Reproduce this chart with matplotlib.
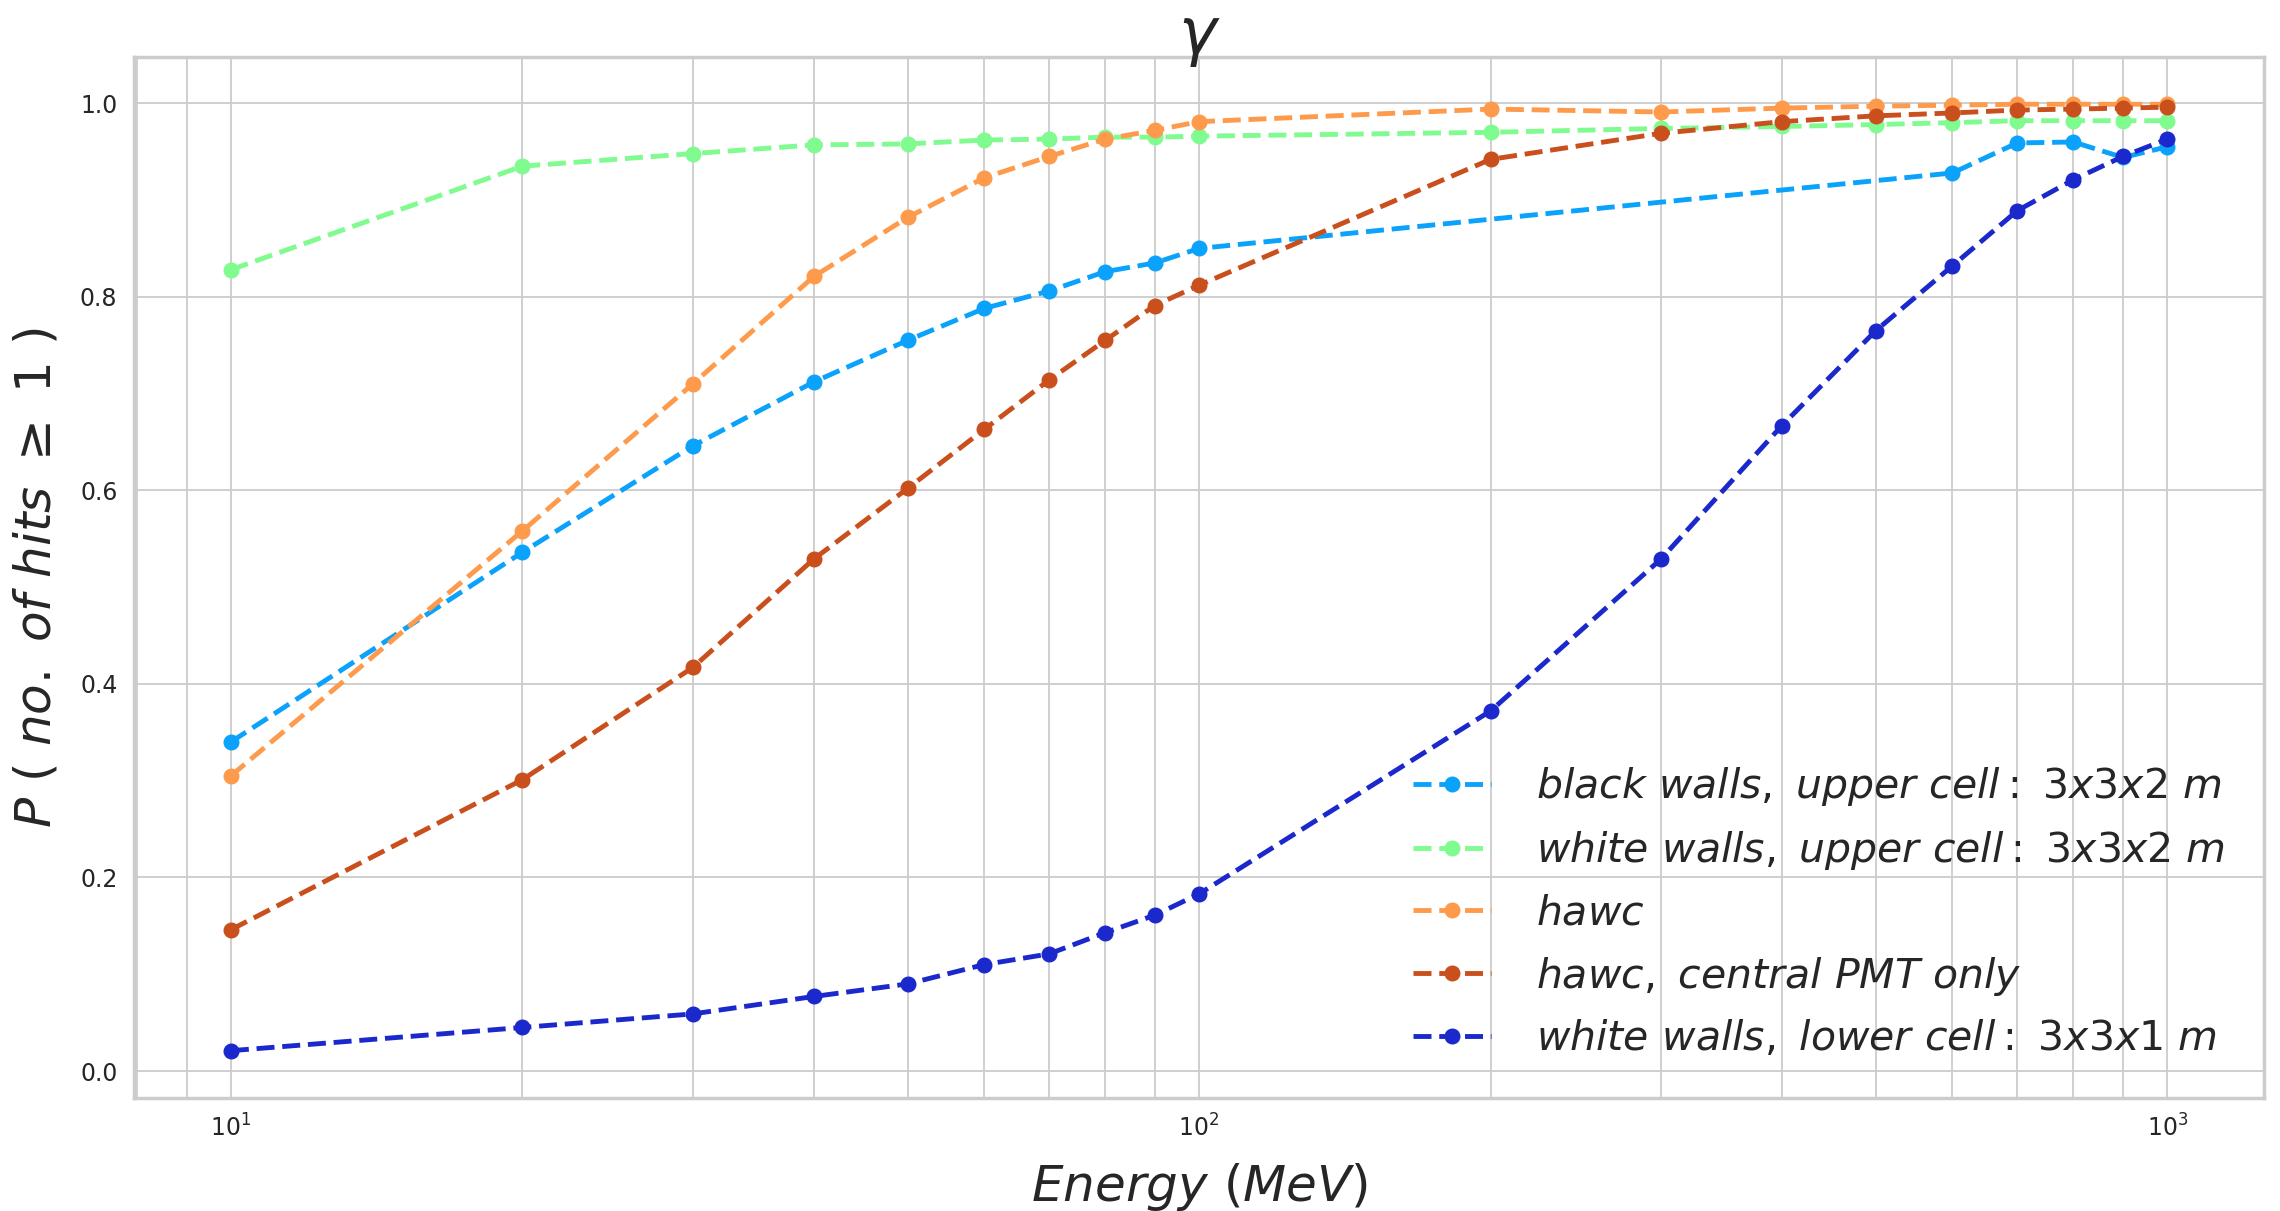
import matplotlib
matplotlib.use("Agg")
import matplotlib.pyplot as plt
import seaborn as sns

# =========================
# DATA
# =========================
energy_all = [10, 20, 30, 40, 50, 60, 70, 80, 90, 100,
              200, 300, 400, 500, 600, 700, 800, 900, 1000]
energy_black = [10, 20, 30, 40, 50, 60, 70, 80, 90, 100,
                600, 700, 800, 900, 1000]

p_black_upper = [0.340, 0.536, 0.646, 0.712, 0.755, 0.788, 0.806, 0.826, 0.835, 0.850,
                 0.928, 0.959, 0.960, 0.944, 0.955]
p_white_upper = [0.828, 0.935, 0.948, 0.957, 0.958, 0.962, 0.963, 0.965, 0.965, 0.966,
                 0.970, 0.974, 0.976, 0.978, 0.980, 0.982, 0.982, 0.982, 0.982]
p_hawc = [0.305, 0.558, 0.710, 0.821, 0.882, 0.923, 0.945, 0.963, 0.972, 0.981,
          0.994, 0.991, 0.995, 0.997, 0.998, 0.999, 0.999, 0.999, 0.999]
p_hawc_central = [0.146, 0.301, 0.417, 0.529, 0.602, 0.663, 0.714, 0.755, 0.791, 0.812,
                  0.942, 0.969, 0.981, 0.987, 0.990, 0.993, 0.994, 0.995, 0.996]
p_white_lower = [0.021, 0.045, 0.059, 0.077, 0.090, 0.110, 0.121, 0.143, 0.161, 0.183,
                 0.372, 0.529, 0.667, 0.765, 0.832, 0.889, 0.921, 0.945, 0.963]

labels = [
    r"$black\ walls,\ upper\ cell:\ 3x3x2\ m$",
    r"$white\ walls,\ upper\ cell:\ 3x3x2\ m$",
    r"$hawc$",
    r"$hawc,\ central\ PMT\ only$",
    r"$white\ walls,\ lower\ cell:\ 3x3x1\ m$",
]
colors = ["#0ba2fb", "#80fb90", "#fe9a4b", "#c94f1d", "#1b28cc"]

# =========================
# PLOT
# =========================
sns.set_style("whitegrid")

fig = plt.figure(figsize=(22.8, 12.11), dpi=100)
ax = fig.add_axes([0.0588, 0.0933, 0.9342, 0.8597])

series = [
    (energy_black, p_black_upper),
    (energy_all, p_white_upper),
    (energy_all, p_hawc),
    (energy_all, p_hawc_central),
    (energy_all, p_white_lower),
]
for (x, y), lab, col in zip(series, labels, colors):
    ax.plot(x, y, linestyle="--", marker="o", color=col, linewidth=3.5,
            markersize=10.5, label=lab)

ax.set_xscale("log")
ax.grid(True, which="both", color="#cccccc", linewidth=1.3)
for sp in ax.spines.values():
    sp.set_color("#cccccc")
    sp.set_linewidth(2.5)

ax.tick_params(axis="both", which="major", labelsize=17, length=0, pad=12)
ax.tick_params(axis="x", which="minor", length=0)

ax.set_title(r"$\gamma$", fontsize=46, pad=2)
ax.set_xlabel(r"$Energy\ (MeV)$", fontsize=36, labelpad=14)
ax.set_ylabel(r"$P\ (\ no.\ of\ hits\ \geq\ 1\ )$", fontsize=36, labelpad=14)

ax.legend(loc="lower right", fontsize=29.5, frameon=False,
          borderaxespad=0.55, labelspacing=0.52, handletextpad=1.1,
          handlelength=1.9)

plt.savefig("out.png", dpi=100)
